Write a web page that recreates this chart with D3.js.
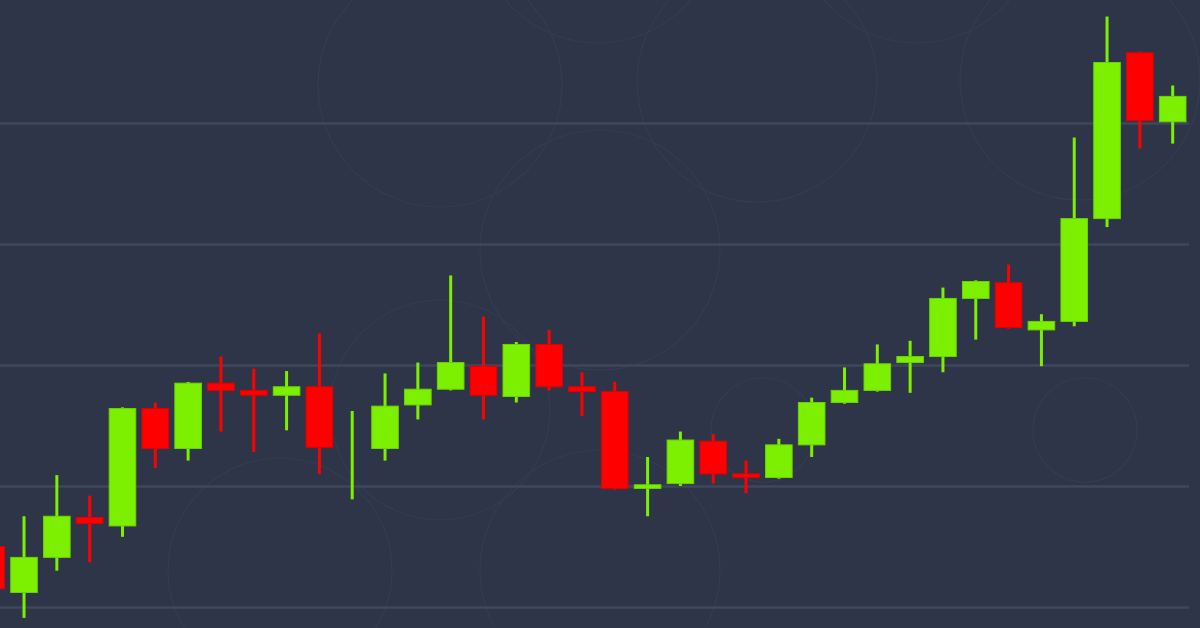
<!DOCTYPE html>
<html>
<head>
<meta charset="utf-8">
<script src="https://cdn.jsdelivr.net/npm/d3@7"></script>
<style>
  html, body { margin: 0; padding: 0; background: #2e3548; overflow: hidden; }
  svg { display: block; }
</style>
</head>
<body>
<svg id="chart" width="1200" height="628"></svg>
<script>
// ---- data ----
const periods = ["P01","P02","P03","P04","P05","P06","P07","P08","P09","P10",
                 "P11","P12","P13","P14","P15","P16","P17","P18","P19","P20",
                 "P21","P22","P23","P24","P25","P26","P27","P28","P29","P30",
                 "P31","P32","P33","P34","P35","P36","P37"];
const openV  = [6850,6812,6841,6874,6867,6964,6931,6985,6979,6975,6982,6926,6931,6967,6980,6999,6974,7017,6982,6978,6898,6902,6937,6910,6907,6934,6969,6979,7002,7007,7055,7068,7029,7036,7121,7258,7201];
const highV  = [6856,6875,6909,6892,6965,6969,6986,7007,6997,6995,7026,6962,6993,7002,7074,7040,7019,7029,6994,6986,6924,6945,6943,6921,6939,6973,6998,7017,7020,7064,7070,7083,7042,7188,7288,7259,7231];
const lowV   = [6810,6791,6830,6837,6858,6915,6921,6945,6928,6946,6910,6889,6921,6955,6979,6955,6969,6979,6958,6897,6875,6900,6902,6894,6906,6924,6968,6978,6977,6994,7021,7030,6999,7032,7114,7179,7183];
const closeV = [6815,6841,6875,6869,6964,6931,6985,6979,6975,6982,6932,6926,6966,6980,7002,6975,7017,6982,6978,6898,6901,6938,6910,6907,6934,6969,6979,7001,7007,7055,7069,7031,7036,7121,7250,7202,7222];
const gridValues = [6800, 6900, 7000, 7100, 7200];

// decorative background rings: [cx, cy, r]
const ringCx = [598, 917, 440, 757, 1080, 600, 440, 763, 1085, 600, 280];
const ringCy = [-78, -78, 85, 82, 80, 250, 410, 430, 430, 570, 570];
const ringR  = [121, 121, 122, 120, 120, 120, 110, 52, 52, 120, 112];

const W = 1200, H = 628;
const svg = d3.select("#chart");

svg.append("rect").attr("width", W).attr("height", H).attr("fill", "#2e3548");

// rings
svg.append("g").selectAll("circle")
  .data(ringCx.map((cx, i) => ({cx, cy: ringCy[i], r: ringR[i]})))
  .join("circle")
  .attr("cx", d => d.cx).attr("cy", d => d.cy).attr("r", d => d.r)
  .attr("fill", "none").attr("stroke", "#343c50").attr("stroke-width", 1.2);

const data = periods.map((p, i) => ({p, o: openV[i], h: highV[i], l: lowV[i], c: closeV[i]}));

const x = d3.scaleBand().domain(periods).range([-25.2, 1189.1])
  .paddingInner(0.19).paddingOuter(0.095);
const y = d3.scaleLinear().domain([6800, 7200]).range([607, 123]);

// gridlines
const gridAxis = d3.axisRight(y).tickValues(gridValues).tickSize(1189).tickFormat("");
const gg = svg.append("g").call(gridAxis);
gg.select(".domain").remove();
gg.selectAll(".tick line").attr("stroke", "#3f475b").attr("stroke-width", 2.5);

const green = "#7cf000", greenEdge = "#6cd400";
const red = "#ff0000", redEdge = "#e00000";

const cx = d => x(d.p) + x.bandwidth() / 2;
const candles = svg.append("g").selectAll("g").data(data).join("g");

candles.append("line")
  .attr("x1", cx).attr("x2", cx)
  .attr("y1", d => y(d.h)).attr("y2", d => y(d.l))
  .attr("stroke", d => d.c >= d.o ? green : red)
  .attr("stroke-width", 3);

candles.filter(d => d.o !== d.c).append("rect")
  .attr("x", d => x(d.p))
  .attr("width", x.bandwidth())
  .attr("y", d => y(Math.max(d.o, d.c)))
  .attr("height", d => Math.abs(y(d.o) - y(d.c)))
  .attr("fill", d => d.c >= d.o ? green : red)
  .attr("stroke", d => d.c >= d.o ? greenEdge : redEdge)
  .attr("stroke-width", 1);
</script>
</body>
</html>
